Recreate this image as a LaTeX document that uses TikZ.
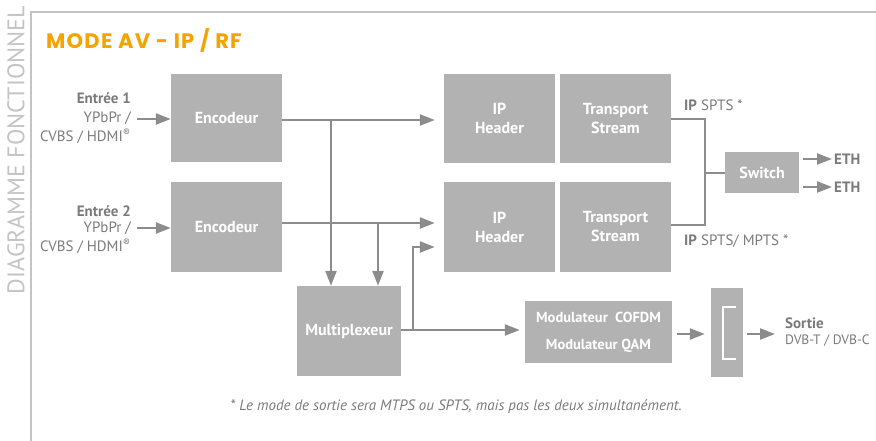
\documentclass[tikz,border=0pt]{standalone}
\usepackage{fontspec}
\setmainfont{PT Sans}
\newfontfamily\titlefont{Poppins}[LetterSpace=6]
\usetikzlibrary{arrows.meta}
\definecolor{boxgray}{HTML}{B2B2B2}
\definecolor{arrgray}{HTML}{8C8C8C}
\definecolor{txtgray}{HTML}{7A7A7A}
\definecolor{framegray}{HTML}{C4C4C4}
\definecolor{orangetitle}{HTML}{F5A300}
\tikzset{
  blk/.style={fill=boxgray, text=white, font=\fontsize{16}{19}\selectfont\bfseries, inner sep=0pt, align=center},
  arr/.style={draw=arrgray, line width=2.3pt, -{Triangle[length=15pt,width=11pt]}},
  ln/.style={draw=arrgray, line width=2.3pt},
  lbl/.style={text=txtgray, font=\fontsize{15}{17}\selectfont, inner sep=0pt},
  lblb/.style={text=txtgray, font=\fontsize{15}{17}\selectfont\bfseries, inner sep=0pt},
}
\begin{document}
\begin{tikzpicture}[x=1pt,y=-1pt]
\useasboundingbox (0,0) rectangle (876,441);
% frame
\draw[framegray, line width=1.2pt] (31,441) -- (31,12) -- (876,12);
\node[rotate=90, text=framegray, font=\fontsize{24}{26}\selectfont, inner sep=0pt] (side) at (16,150) {DIAGRAMME FONCTIONNEL};
\node[anchor=west, text=orangetitle, font=\titlefont\fontsize{21}{22}\selectfont\bfseries, inner sep=0pt] (title) at (46,40) {MODE AV - IP / RF};

% blocks
\node[blk, minimum width=111pt, minimum height=88pt] (enc1) at (226.5,118) {Encodeur};
\node[blk, minimum width=111pt, minimum height=90pt] (enc2) at (226.5,227) {Encodeur};
\node[blk, minimum width=111pt, minimum height=89pt] (iph1) at (499.5,118.5) {IP\\Header};
\node[blk, minimum width=111pt, minimum height=89pt] (ts1) at (615.5,118.5) {Transport\\Stream};
\node[blk, minimum width=111pt, minimum height=90pt] (iph2) at (499.5,227) {IP\\Header};
\node[blk, minimum width=111pt, minimum height=90pt] (ts2) at (615.5,227) {Transport\\Stream};
\node[blk, minimum width=104pt, minimum height=90pt] (mux) at (349,331) {Multiplexeur};
\node[blk, minimum width=147pt, minimum height=62pt, font=\fontsize{14.5}{27}\selectfont\bfseries] (mod) at (598.5,332) {Modulateur~~COFDM\\Modulateur QAM};
\node[blk, minimum width=32pt, minimum height=89pt] (out) at (727,332.5) {};
\draw[white, line width=2pt] (736,307) -- (723,307) -- (723,359) -- (736,359);
\node[blk, minimum width=74pt, minimum height=41pt] (sw) at (762,172.5) {Switch};

% input labels
\node[lblb, anchor=east] (e1) at (131,98) {Entrée 1};
\node[lbl, anchor=east] (e1a) at (131,118) {YPbPr /};
\node[lbl, anchor=east] (e1b) at (131,136) {CVBS / HDMI\textsuperscript{®}};
\node[lblb, anchor=east] (e2) at (131,211) {Entrée 2};
\node[lbl, anchor=east] (e2a) at (131,228) {YPbPr /};
\node[lbl, anchor=east] (e2b) at (131,246) {CVBS / HDMI\textsuperscript{®}};
\coordinate (in1) at (137,119);
\coordinate (in2) at (137,228);
\draw[arr] (in1) -- (in1 -| enc1.west);
\draw[arr] (in2) -- (in2 -| enc2.west);

% encoder outputs
\coordinate (o1) at (282,120);
\coordinate (o2) at (282,223);
\coordinate (j1) at (331,120);
\coordinate (j2) at (378,223);
\draw[arr, shorten >=9pt] (o1) -- (o1 -| iph1.west);
\draw[arr, shorten >=9pt] (o2) -- (o2 -| iph2.west);
\draw[arr] (j1) -- (j1 |- mux.north);
\draw[arr] (j2) -- (j2 |- mux.north);

% mux output
\coordinate (mo) at (401,330);
\coordinate (j3) at (413,330);
\coordinate (j4) at (413,247);
\draw[ln] (mo) -- (j3);
\draw[arr, shorten >=9pt] (j3) -- (j4) -- (j4 -| iph2.west);
\draw[arr, shorten >=5pt] (j3) -- (j3 -| mod.west);

% modulator -> output
\coordinate (m1) at (677,334);
\coordinate (s1) at (747,334);
\coordinate (s2) at (775,334);
\draw[arr, shorten >=6pt] (m1) -- (m1 -| out.west);
\draw[arr] (s1) -- (s2);
\node[lblb, anchor=west] (sortie) at (785,323) {Sortie};
\node[lbl, anchor=west, font=\fontsize{13.6}{16}\selectfont] (dvb) at (785,341) {DVB-T / DVB-C};

% transport -> switch
\coordinate (t1) at (671,119);
\coordinate (t2) at (671,225);
\coordinate (k1) at (705,119);
\coordinate (k2) at (705,225);
\coordinate (k3) at (705,173);
\draw[ln] (t1) -- (k1) -- (k2) -- (t2);
\draw[ln] (k3) -- (k3 -| sw.west);
\node[lbl, anchor=west] (ipa) at (684,105) {\textbf{IP} SPTS *};
\node[lbl, anchor=west] (ipb) at (684,241) {\textbf{IP} SPTS/ MPTS *};

% ETH
\coordinate (w1) at (803,159);
\coordinate (w2) at (803,187);
\coordinate (x1) at (832,159);
\coordinate (x2) at (832,187);
\draw[arr] (w1) -- (x1);
\draw[arr] (w2) -- (x2);
\node[lblb, anchor=west] (eth1) at (834,159) {ETH};
\node[lblb, anchor=west] (eth2) at (834,187) {ETH};

% footnote
\node[lbl, font=\fontsize{15}{17}\selectfont\itshape] (fn) at (456,407) {* Le mode de sortie sera MTPS ou SPTS, mais pas les deux simultanément.};
\end{tikzpicture}
\end{document}
